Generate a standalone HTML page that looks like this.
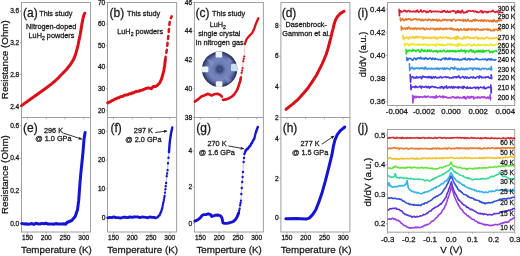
<!DOCTYPE html>
<html><head><meta charset="utf-8"><style>
html,body{margin:0;padding:0;background:#fff;}
svg{display:block;opacity:0.999;filter:blur(0.3px);}
text{font-family:"Liberation Sans", sans-serif;fill:#1a1a1a;stroke:#1a1a1a;stroke-width:0.28px;}
</style></head><body>
<svg width="520" height="256" viewBox="0 0 520 256">
<rect width="520" height="256" fill="#fff"/>
<rect x="21.5" y="2.5" width="69.0" height="115.0" fill="none" stroke="#a0a0a0" stroke-width="1"/>
<rect x="21.5" y="117.5" width="69.0" height="114.5" fill="none" stroke="#a0a0a0" stroke-width="1"/>
<rect x="107.5" y="2.5" width="69.1" height="115.0" fill="none" stroke="#a0a0a0" stroke-width="1"/>
<rect x="107.5" y="117.5" width="69.1" height="114.5" fill="none" stroke="#a0a0a0" stroke-width="1"/>
<rect x="194.4" y="2.5" width="68.99999999999997" height="115.0" fill="none" stroke="#a0a0a0" stroke-width="1"/>
<rect x="194.4" y="117.5" width="68.99999999999997" height="114.5" fill="none" stroke="#a0a0a0" stroke-width="1"/>
<rect x="280.9" y="2.5" width="69.0" height="115.0" fill="none" stroke="#a0a0a0" stroke-width="1"/>
<rect x="280.9" y="117.5" width="69.0" height="114.5" fill="none" stroke="#a0a0a0" stroke-width="1"/>
<rect x="387.5" y="2.5" width="127.2" height="103" fill="none" stroke="#a0a0a0" stroke-width="1"/>
<rect x="387.5" y="129.5" width="127.2" height="102.7" fill="none" stroke="#a0a0a0" stroke-width="1"/>
<line x1="27.5" y1="232.0" x2="27.5" y2="233.8" stroke="#a0a0a0" stroke-width="0.8"/>
<line x1="27.5" y1="117.5" x2="27.5" y2="119.3" stroke="#a0a0a0" stroke-width="0.8"/>
<text x="27.5" y="240.3" font-size="6.6" text-anchor="middle" >150</text>
<line x1="46.25" y1="232.0" x2="46.25" y2="233.8" stroke="#a0a0a0" stroke-width="0.8"/>
<line x1="46.25" y1="117.5" x2="46.25" y2="119.3" stroke="#a0a0a0" stroke-width="0.8"/>
<text x="46.25" y="240.3" font-size="6.6" text-anchor="middle" >200</text>
<line x1="65.0" y1="232.0" x2="65.0" y2="233.8" stroke="#a0a0a0" stroke-width="0.8"/>
<line x1="65.0" y1="117.5" x2="65.0" y2="119.3" stroke="#a0a0a0" stroke-width="0.8"/>
<text x="65.0" y="240.3" font-size="6.6" text-anchor="middle" >250</text>
<line x1="83.75" y1="232.0" x2="83.75" y2="233.8" stroke="#a0a0a0" stroke-width="0.8"/>
<line x1="83.75" y1="117.5" x2="83.75" y2="119.3" stroke="#a0a0a0" stroke-width="0.8"/>
<text x="83.75" y="240.3" font-size="6.6" text-anchor="middle" >300</text>
<text x="56.4" y="252.6" font-size="9.8" text-anchor="middle" >Temperature (K)</text>
<line x1="113.5" y1="232.0" x2="113.5" y2="233.8" stroke="#a0a0a0" stroke-width="0.8"/>
<line x1="113.5" y1="117.5" x2="113.5" y2="119.3" stroke="#a0a0a0" stroke-width="0.8"/>
<text x="113.5" y="240.3" font-size="6.6" text-anchor="middle" >150</text>
<line x1="132.25" y1="232.0" x2="132.25" y2="233.8" stroke="#a0a0a0" stroke-width="0.8"/>
<line x1="132.25" y1="117.5" x2="132.25" y2="119.3" stroke="#a0a0a0" stroke-width="0.8"/>
<text x="132.25" y="240.3" font-size="6.6" text-anchor="middle" >200</text>
<line x1="151.0" y1="232.0" x2="151.0" y2="233.8" stroke="#a0a0a0" stroke-width="0.8"/>
<line x1="151.0" y1="117.5" x2="151.0" y2="119.3" stroke="#a0a0a0" stroke-width="0.8"/>
<text x="151.0" y="240.3" font-size="6.6" text-anchor="middle" >250</text>
<line x1="169.75" y1="232.0" x2="169.75" y2="233.8" stroke="#a0a0a0" stroke-width="0.8"/>
<line x1="169.75" y1="117.5" x2="169.75" y2="119.3" stroke="#a0a0a0" stroke-width="0.8"/>
<text x="169.75" y="240.3" font-size="6.6" text-anchor="middle" >300</text>
<text x="142.6" y="252.6" font-size="9.8" text-anchor="middle" >Temperature (K)</text>
<line x1="200.4" y1="232.0" x2="200.4" y2="233.8" stroke="#a0a0a0" stroke-width="0.8"/>
<line x1="200.4" y1="117.5" x2="200.4" y2="119.3" stroke="#a0a0a0" stroke-width="0.8"/>
<text x="200.4" y="240.3" font-size="6.6" text-anchor="middle" >150</text>
<line x1="219.15" y1="232.0" x2="219.15" y2="233.8" stroke="#a0a0a0" stroke-width="0.8"/>
<line x1="219.15" y1="117.5" x2="219.15" y2="119.3" stroke="#a0a0a0" stroke-width="0.8"/>
<text x="219.15" y="240.3" font-size="6.6" text-anchor="middle" >200</text>
<line x1="237.9" y1="232.0" x2="237.9" y2="233.8" stroke="#a0a0a0" stroke-width="0.8"/>
<line x1="237.9" y1="117.5" x2="237.9" y2="119.3" stroke="#a0a0a0" stroke-width="0.8"/>
<text x="237.9" y="240.3" font-size="6.6" text-anchor="middle" >250</text>
<line x1="256.65" y1="232.0" x2="256.65" y2="233.8" stroke="#a0a0a0" stroke-width="0.8"/>
<line x1="256.65" y1="117.5" x2="256.65" y2="119.3" stroke="#a0a0a0" stroke-width="0.8"/>
<text x="256.65" y="240.3" font-size="6.6" text-anchor="middle" >300</text>
<text x="229.1" y="252.6" font-size="9.8" text-anchor="middle" >Temperture (K)</text>
<line x1="286.9" y1="232.0" x2="286.9" y2="233.8" stroke="#a0a0a0" stroke-width="0.8"/>
<line x1="286.9" y1="117.5" x2="286.9" y2="119.3" stroke="#a0a0a0" stroke-width="0.8"/>
<text x="286.9" y="240.3" font-size="6.6" text-anchor="middle" >150</text>
<line x1="305.65" y1="232.0" x2="305.65" y2="233.8" stroke="#a0a0a0" stroke-width="0.8"/>
<line x1="305.65" y1="117.5" x2="305.65" y2="119.3" stroke="#a0a0a0" stroke-width="0.8"/>
<text x="305.65" y="240.3" font-size="6.6" text-anchor="middle" >200</text>
<line x1="324.4" y1="232.0" x2="324.4" y2="233.8" stroke="#a0a0a0" stroke-width="0.8"/>
<line x1="324.4" y1="117.5" x2="324.4" y2="119.3" stroke="#a0a0a0" stroke-width="0.8"/>
<text x="324.4" y="240.3" font-size="6.6" text-anchor="middle" >250</text>
<line x1="343.15" y1="232.0" x2="343.15" y2="233.8" stroke="#a0a0a0" stroke-width="0.8"/>
<line x1="343.15" y1="117.5" x2="343.15" y2="119.3" stroke="#a0a0a0" stroke-width="0.8"/>
<text x="343.15" y="240.3" font-size="6.6" text-anchor="middle" >300</text>
<text x="316.1" y="252.6" font-size="9.8" text-anchor="middle" >Temperature (K)</text>
<line x1="19.7" y1="11.2" x2="21.5" y2="11.2" stroke="#a0a0a0" stroke-width="0.8"/>
<text x="19.3" y="13.399999999999999" font-size="6.6" text-anchor="end" >3.6</text>
<line x1="19.7" y1="42.9" x2="21.5" y2="42.9" stroke="#a0a0a0" stroke-width="0.8"/>
<text x="19.3" y="45.1" font-size="6.6" text-anchor="end" >3.2</text>
<line x1="19.7" y1="74.6" x2="21.5" y2="74.6" stroke="#a0a0a0" stroke-width="0.8"/>
<text x="19.3" y="76.8" font-size="6.6" text-anchor="end" >2.8</text>
<line x1="19.7" y1="106.3" x2="21.5" y2="106.3" stroke="#a0a0a0" stroke-width="0.8"/>
<text x="19.3" y="108.5" font-size="6.6" text-anchor="end" >2.4</text>
<line x1="19.7" y1="125.5" x2="21.5" y2="125.5" stroke="#a0a0a0" stroke-width="0.8"/>
<text x="19.3" y="127.7" font-size="6.6" text-anchor="end" >0.6</text>
<line x1="19.7" y1="158.2" x2="21.5" y2="158.2" stroke="#a0a0a0" stroke-width="0.8"/>
<text x="19.3" y="160.39999999999998" font-size="6.6" text-anchor="end" >0.4</text>
<line x1="19.7" y1="190.8" x2="21.5" y2="190.8" stroke="#a0a0a0" stroke-width="0.8"/>
<text x="19.3" y="193.0" font-size="6.6" text-anchor="end" >0.2</text>
<line x1="19.7" y1="223.5" x2="21.5" y2="223.5" stroke="#a0a0a0" stroke-width="0.8"/>
<text x="19.3" y="225.7" font-size="6.6" text-anchor="end" >0.0</text>
<line x1="105.7" y1="2.5" x2="107.5" y2="2.5" stroke="#a0a0a0" stroke-width="0.8"/>
<text x="105.3" y="4.7" font-size="6.6" text-anchor="end" >70</text>
<line x1="105.7" y1="24.0" x2="107.5" y2="24.0" stroke="#a0a0a0" stroke-width="0.8"/>
<text x="105.3" y="26.2" font-size="6.6" text-anchor="end" >60</text>
<line x1="105.7" y1="45.6" x2="107.5" y2="45.6" stroke="#a0a0a0" stroke-width="0.8"/>
<text x="105.3" y="47.800000000000004" font-size="6.6" text-anchor="end" >50</text>
<line x1="105.7" y1="67.1" x2="107.5" y2="67.1" stroke="#a0a0a0" stroke-width="0.8"/>
<text x="105.3" y="69.3" font-size="6.6" text-anchor="end" >40</text>
<line x1="105.7" y1="88.7" x2="107.5" y2="88.7" stroke="#a0a0a0" stroke-width="0.8"/>
<text x="105.3" y="90.9" font-size="6.6" text-anchor="end" >30</text>
<line x1="105.7" y1="110.3" x2="107.5" y2="110.3" stroke="#a0a0a0" stroke-width="0.8"/>
<text x="105.3" y="112.5" font-size="6.6" text-anchor="end" >20</text>
<line x1="105.7" y1="131.5" x2="107.5" y2="131.5" stroke="#a0a0a0" stroke-width="0.8"/>
<text x="105.3" y="133.7" font-size="6.6" text-anchor="end" >30</text>
<line x1="105.7" y1="160.1" x2="107.5" y2="160.1" stroke="#a0a0a0" stroke-width="0.8"/>
<text x="105.3" y="162.29999999999998" font-size="6.6" text-anchor="end" >20</text>
<line x1="105.7" y1="188.7" x2="107.5" y2="188.7" stroke="#a0a0a0" stroke-width="0.8"/>
<text x="105.3" y="190.89999999999998" font-size="6.6" text-anchor="end" >10</text>
<line x1="105.7" y1="217.3" x2="107.5" y2="217.3" stroke="#a0a0a0" stroke-width="0.8"/>
<text x="105.3" y="219.5" font-size="6.6" text-anchor="end" >0</text>
<line x1="192.6" y1="2.5" x2="194.4" y2="2.5" stroke="#a0a0a0" stroke-width="0.8"/>
<text x="192.20000000000002" y="4.7" font-size="6.6" text-anchor="end" >46</text>
<line x1="192.6" y1="31.2" x2="194.4" y2="31.2" stroke="#a0a0a0" stroke-width="0.8"/>
<text x="192.20000000000002" y="33.4" font-size="6.6" text-anchor="end" >44</text>
<line x1="192.6" y1="59.9" x2="194.4" y2="59.9" stroke="#a0a0a0" stroke-width="0.8"/>
<text x="192.20000000000002" y="62.1" font-size="6.6" text-anchor="end" >42</text>
<line x1="192.6" y1="88.6" x2="194.4" y2="88.6" stroke="#a0a0a0" stroke-width="0.8"/>
<text x="192.20000000000002" y="90.8" font-size="6.6" text-anchor="end" >40</text>
<line x1="192.6" y1="117.3" x2="194.4" y2="117.3" stroke="#a0a0a0" stroke-width="0.8"/>
<text x="192.20000000000002" y="119.5" font-size="6.6" text-anchor="end" >38</text>
<line x1="192.6" y1="150.9" x2="194.4" y2="150.9" stroke="#a0a0a0" stroke-width="0.8"/>
<text x="192.20000000000002" y="153.1" font-size="6.6" text-anchor="end" >4</text>
<line x1="192.6" y1="187.1" x2="194.4" y2="187.1" stroke="#a0a0a0" stroke-width="0.8"/>
<text x="192.20000000000002" y="189.29999999999998" font-size="6.6" text-anchor="end" >2</text>
<line x1="192.6" y1="223.3" x2="194.4" y2="223.3" stroke="#a0a0a0" stroke-width="0.8"/>
<text x="192.20000000000002" y="225.5" font-size="6.6" text-anchor="end" >0</text>
<line x1="279.09999999999997" y1="25.4" x2="280.9" y2="25.4" stroke="#a0a0a0" stroke-width="0.8"/>
<text x="278.7" y="27.599999999999998" font-size="6.6" text-anchor="end" >8</text>
<line x1="279.09999999999997" y1="56.2" x2="280.9" y2="56.2" stroke="#a0a0a0" stroke-width="0.8"/>
<text x="278.7" y="58.400000000000006" font-size="6.6" text-anchor="end" >6</text>
<line x1="279.09999999999997" y1="87.0" x2="280.9" y2="87.0" stroke="#a0a0a0" stroke-width="0.8"/>
<text x="278.7" y="89.2" font-size="6.6" text-anchor="end" >4</text>
<line x1="279.09999999999997" y1="117.7" x2="280.9" y2="117.7" stroke="#a0a0a0" stroke-width="0.8"/>
<text x="278.7" y="119.9" font-size="6.6" text-anchor="end" >2</text>
<line x1="279.09999999999997" y1="138.5" x2="280.9" y2="138.5" stroke="#a0a0a0" stroke-width="0.8"/>
<text x="278.7" y="140.7" font-size="6.6" text-anchor="end" >4</text>
<line x1="279.09999999999997" y1="178.3" x2="280.9" y2="178.3" stroke="#a0a0a0" stroke-width="0.8"/>
<text x="278.7" y="180.5" font-size="6.6" text-anchor="end" >2</text>
<line x1="279.09999999999997" y1="218.1" x2="280.9" y2="218.1" stroke="#a0a0a0" stroke-width="0.8"/>
<text x="278.7" y="220.29999999999998" font-size="6.6" text-anchor="end" >0</text>
<text transform="translate(7.9,59.7) rotate(-90)" font-size="9.8" text-anchor="middle">Resistance (Ohm)</text>
<text transform="translate(7.9,174.6) rotate(-90)" font-size="9.8" text-anchor="middle">Resistance (Ohm)</text>
<text x="23.1" y="16.5" font-size="12.0" text-anchor="start" >(a)</text>
<text x="39.2" y="15.6" font-size="7.3" text-anchor="start" >This study</text>
<text x="51.2" y="29.4" font-size="7.3" text-anchor="middle" >Nitrogen-doped</text>
<text x="51.5" y="37.8" font-size="7.3" text-anchor="middle" >LuH<tspan font-size="5.2" dy="2.0">2</tspan><tspan dy="-2.0"> powders</tspan></text>
<text x="109.5" y="16.5" font-size="12.0" text-anchor="start" >(b)</text>
<text x="127.0" y="15.6" font-size="7.3" text-anchor="start" >This study</text>
<text x="140.2" y="33.5" font-size="7.3" text-anchor="middle" >LuH<tspan font-size="5.2" dy="2.0">2</tspan><tspan dy="-2.0"> powders</tspan></text>
<text x="195.6" y="16.5" font-size="12.0" text-anchor="start" >(c)</text>
<text x="212.0" y="15.6" font-size="7.3" text-anchor="start" >This study</text>
<text x="217.8" y="27.3" font-size="7.3" text-anchor="middle" >LuH<tspan font-size="5.2" dy="2.0">2</tspan></text>
<text x="219.3" y="36.4" font-size="7.3" text-anchor="middle" >single crystal</text>
<text x="220.8" y="44.6" font-size="7.3" text-anchor="middle" >in nitrogen gas.</text>
<text x="281.7" y="16.5" font-size="12.0" text-anchor="start" >(d)</text>
<text x="306.2" y="27.1" font-size="7.3" text-anchor="middle" >Dasenbrock-</text>
<text x="306.2" y="35.6" font-size="7.3" text-anchor="middle" >Gammon et al.</text>
<text x="23.1" y="132.2" font-size="12.0" text-anchor="start" >(e)</text>
<text x="53.5" y="132.8" font-size="7.3" text-anchor="middle" >296 K</text>
<text x="53.4" y="141.2" font-size="7.3" text-anchor="middle" >@ 1.0 GPa</text>
<text x="110.5" y="132.2" font-size="12.0" text-anchor="start" >(f)</text>
<text x="143.4" y="133.2" font-size="7.3" text-anchor="middle" >297 K</text>
<text x="143.4" y="142.2" font-size="7.3" text-anchor="middle" >@ 2.0 GPa</text>
<text x="196.3" y="132.2" font-size="12.0" text-anchor="start" >(g)</text>
<text x="217.0" y="145.6" font-size="7.3" text-anchor="middle" >270 K</text>
<text x="216.8" y="154.9" font-size="7.3" text-anchor="middle" >@ 1.6 GPa</text>
<text x="282.7" y="132.2" font-size="12.0" text-anchor="start" >(h)</text>
<text x="310.1" y="145.6" font-size="7.3" text-anchor="middle" >277 K</text>
<text x="310.1" y="154.9" font-size="7.3" text-anchor="middle" >@ 1.5 GPa</text>
<line x1="63.3" y1="133.1" x2="82.0" y2="139.2" stroke="#333" stroke-width="1.0"/>
<polygon points="82.0,139.2 78.46,139.73 79.45,136.69" fill="#222"/>
<line x1="155.2" y1="132.5" x2="167.2" y2="131.0" stroke="#333" stroke-width="1.0"/>
<polygon points="167.2,131.0 164.22,132.98 163.83,129.81" fill="#222"/>
<line x1="228.3" y1="145.9" x2="244.0" y2="148.8" stroke="#333" stroke-width="1.0"/>
<polygon points="244.0,148.8 240.56,149.79 241.14,146.65" fill="#222"/>
<line x1="321.8" y1="144.2" x2="334.2" y2="135.9" stroke="#333" stroke-width="1.0"/>
<polygon points="334.2,135.9 332.43,139.01 330.65,136.35" fill="#222"/>
<polyline points="21.50,105.60 30.00,99.50 41.30,91.60 46.50,87.80 51.90,83.60 55.00,81.00 58.90,77.30 62.80,73.30 66.70,69.20 70.60,64.30 73.60,59.40 75.50,54.60 76.90,49.70 78.10,44.80 79.10,39.90 80.20,34.50 80.90,30.50 81.90,24.10 83.00,18.50 83.70,15.60 84.80,13.20" fill="none" stroke="#d9101a" stroke-width="3.0" stroke-linejoin="round" stroke-linecap="round" />
<polyline points="107.80,102.88 109.02,102.14 110.23,101.87 111.45,100.85 112.67,100.56 113.88,99.82 115.10,98.99 116.22,98.84 117.35,98.05 118.47,97.87 119.60,97.15 120.72,96.70 121.85,96.47 122.97,96.29 124.10,95.34 125.24,95.04 126.38,94.96 127.51,94.83 128.65,94.20 129.79,93.72 130.92,93.76 132.06,92.75 133.20,92.95 134.32,92.22 135.45,91.78 136.57,91.42 137.70,91.22 138.82,91.23 139.95,90.45 141.07,90.39 142.20,90.10 143.33,89.54 144.47,89.30 145.60,88.59 146.73,88.23 147.87,87.96 149.00,87.93 151.30,88.80 153.30,86.60 155.50,86.60 157.70,85.00 159.80,82.70 161.40,79.40 162.70,75.00 163.80,70.60 164.70,65.20 165.30,59.70" fill="none" stroke="#d9101a" stroke-width="3.0" stroke-linejoin="round" stroke-linecap="round" />
<polyline points="165.30,59.70 166.00,54.20 166.80,50.00 167.30,45.50 168.00,39.30 168.60,33.20 169.10,27.90 169.60,22.60 170.50,19.10 171.70,16.40" fill="none" stroke="#d9101a" stroke-width="2.5" stroke-linejoin="round" stroke-linecap="round" stroke-dasharray="3 4"/>
<polyline points="194.80,101.60 198.00,99.40 201.40,96.50 204.80,95.20 208.10,93.80 211.50,95.50 214.00,94.30 217.40,93.80 219.90,94.80 221.90,96.50" fill="none" stroke="#d9101a" stroke-width="2.6" stroke-linejoin="round" stroke-linecap="round" />
<polyline points="222.90,99.90 225.80,99.40 229.20,98.20 232.00,96.50 234.40,94.10 236.70,90.60 237.90,88.20 239.00,84.70 240.20,81.20 240.90,77.60" fill="none" stroke="#d9101a" stroke-width="2.6" stroke-linejoin="round" stroke-linecap="round" />
<polyline points="240.9,77.6 241.6,72.9 242.6,68.2 243.3,61.2 244.2,56.5 244.9,44" fill="none" stroke="#e8a0a0" stroke-width="0.6"/>
<path d="M240.90,77.60h0M241.60,72.90h0M242.10,70.60h0M242.60,68.20h0" stroke="#d9101a" stroke-width="2.2" stroke-linecap="round" fill="none"/>
<path d="M243.30,61.20h0M243.80,58.80h0M244.20,56.50h0" stroke="#d9101a" stroke-width="2.2" stroke-linecap="round" fill="none"/>
<polyline points="244.90,43.90 245.70,41.70 246.40,39.50 247.90,37.60 249.40,35.80 250.90,34.30 252.30,32.80 253.80,29.80 254.60,27.60 255.30,25.40 256.80,21.70 258.30,18.20" fill="none" stroke="#d9101a" stroke-width="2.3" stroke-linejoin="round" stroke-linecap="round" />
<polyline points="286.10,109.30 292.30,104.40 298.40,99.10 304.00,92.80 308.20,87.70 312.30,81.60 316.40,75.30 319.30,69.60 321.90,64.30 324.10,59.40 326.00,54.80 327.50,50.20 328.80,45.50 330.70,38.40 332.00,32.50 333.10,28.60 334.10,24.30 335.60,19.80 337.80,16.10 340.80,13.10 344.10,11.20" fill="none" stroke="#d9101a" stroke-width="3.0" stroke-linejoin="round" stroke-linecap="round" />
<polyline points="21.80,223.49 23.80,223.89 25.80,223.83 27.80,224.25 29.80,224.08 31.80,223.55 33.80,224.38 35.80,223.34 37.80,223.70 39.80,224.11 41.80,223.38 43.80,223.79 45.80,223.25 47.80,224.00 49.80,224.12 51.80,223.89 53.80,224.25 55.80,223.58 57.80,224.03 59.80,223.91 61.80,223.90 63.80,223.75 65.80,224.21 67.00,222.50 71.70,220.50 75.20,216.50 77.50,209.70 78.70,200.40 79.90,184.00 80.80,173.70 81.90,163.00 83.00,152.20 84.00,139.30 85.10,132.50" fill="none" stroke="#1414d2" stroke-width="3.0" stroke-linejoin="round" stroke-linecap="round" />
<polyline points="107.80,217.93 109.80,217.37 111.80,217.60 113.80,216.87 115.80,217.64 117.80,217.58 119.80,217.99 121.80,217.79 123.80,217.14 125.80,217.26 127.80,217.60 129.80,216.83 131.80,217.35 133.80,217.00 135.80,216.94 137.80,216.87 139.80,217.72 141.80,216.96 143.80,217.10 145.80,217.27 147.80,217.85 149.80,216.90 151.80,217.34 153.80,217.46 155.80,217.86" fill="none" stroke="#1414d2" stroke-width="2.8" stroke-linejoin="round" stroke-linecap="round" />
<polyline points="157.50,217.10 159.60,215.00 161.10,211.80 162.40,207.50 163.50,202.10 164.60,195.70 165.40,189.30 166.10,182.90 166.70,176.40 167.60,170.00 168.00,163.00 169.00,152.00" fill="none" stroke="#1414d2" stroke-width="0.6" stroke-linejoin="round" stroke-linecap="round" opacity="0.55"/>
<path d="M157.50,217.29h0M157.92,216.90h0M158.34,216.13h0M158.76,215.79h0M159.18,215.34h0M159.60,215.23h0M159.97,214.47h0M160.35,213.19h0M160.72,212.41h0M161.10,211.64h0M161.53,210.21h0M161.97,208.92h0M162.40,207.55h0M162.77,205.56h0M163.13,203.60h0M163.50,202.05h0M163.87,199.89h0M164.23,197.87h0M164.60,195.97h0M165.00,192.61h0M165.40,189.31h0M165.75,186.17h0M166.10,183.01h0M166.70,176.13h0M167.15,173.44h0M167.60,170.17h0M168.00,163.22h0M168.50,157.68h0M169.00,151.94h0" stroke="#1414d2" stroke-width="2.4" stroke-linecap="round" fill="none"/>
<polyline points="169.00,152.00 169.60,144.00 170.10,139.50 171.00,133.50 172.30,127.50" fill="none" stroke="#1414d2" stroke-width="2.4" stroke-linejoin="round" stroke-linecap="round" />
<polyline points="194.80,221.10 197.70,219.90 200.00,218.10 201.80,215.80 203.50,214.60 205.90,214.60 208.20,213.80 210.60,214.60 211.70,216.50 213.50,215.80 215.80,215.20 218.20,215.00 220.50,215.80 221.70,217.60 222.30,219.30 222.90,222.80 224.60,223.40 227.00,223.40 229.30,222.80 231.60,222.20 234.00,221.10 235.70,219.30 237.30,216.40 238.70,212.90" fill="none" stroke="#1414d2" stroke-width="2.9" stroke-linejoin="round" stroke-linecap="round" />
<polyline points="238.70,212.90 239.60,208.80 240.10,205.30 241.00,200.60 241.30,194.00 242.20,182.00 243.00,172.00 243.60,162.00 244.40,154.00 245.80,150.50" fill="none" stroke="#1414d2" stroke-width="0.5" stroke-linejoin="round" stroke-linecap="round" opacity="0.55"/>
<path d="M238.70,212.90h0M239.15,210.85h0M239.60,208.80h0M240.10,205.30h0M240.55,202.95h0M241.00,200.60h0M241.30,194.00h0M241.75,188.00h0M242.20,182.00h0M242.60,177.00h0M243.00,172.00h0M243.60,162.00h0M244.00,158.00h0M244.40,154.00h0M244.87,152.83h0M245.33,151.67h0M245.80,150.50h0" stroke="#1414d2" stroke-width="2.4" stroke-linecap="round" fill="none"/>
<polyline points="245.80,150.50 246.30,150.00 248.00,148.30 249.60,146.70 250.70,145.10 251.70,143.40 252.90,141.00 254.00,139.30 254.50,137.70 255.30,134.40 256.10,132.00 256.90,129.50 257.80,127.00" fill="none" stroke="#1414d2" stroke-width="0.8" stroke-linejoin="round" stroke-linecap="round" opacity="0.55"/>
<path d="M245.80,150.35h0M246.30,149.91h0M246.73,149.49h0M247.15,148.92h0M247.57,148.93h0M248.00,148.60h0M248.40,147.88h0M248.80,147.49h0M249.20,146.85h0M249.60,146.46h0M249.97,146.07h0M250.33,145.49h0M250.70,145.30h0M251.20,144.05h0M251.70,143.11h0M252.10,142.87h0M252.50,141.82h0M252.90,140.79h0M253.27,140.46h0M253.63,139.58h0M254.00,139.32h0M254.50,137.99h0M254.90,136.27h0M255.30,134.52h0M255.70,133.06h0M256.10,131.92h0M256.50,130.55h0M256.90,129.66h0M257.35,128.27h0M257.80,127.17h0" stroke="#1414d2" stroke-width="2.6" stroke-linecap="round" fill="none"/>
<polyline points="285.80,218.80 296.20,218.40 305.90,219.10 309.20,218.10 312.40,214.90 315.70,210.00 318.90,201.90 322.20,192.20 325.40,180.80 328.70,167.80 331.90,154.90 333.30,146.70 334.90,140.10 337.40,134.40 340.70,130.30 344.80,127.00" fill="none" stroke="#1414d2" stroke-width="3.0" stroke-linejoin="round" stroke-linecap="round" />
<text x="357.6" y="16.8" font-size="12.0" text-anchor="start" >(i)</text>
<line x1="385.7" y1="9.1" x2="387.5" y2="9.1" stroke="#a0a0a0" stroke-width="0.8"/>
<text x="385.3" y="11.7" font-size="7.8" text-anchor="end" >0.44</text>
<line x1="385.7" y1="32.2" x2="387.5" y2="32.2" stroke="#a0a0a0" stroke-width="0.8"/>
<text x="385.3" y="34.800000000000004" font-size="7.8" text-anchor="end" >0.42</text>
<line x1="385.7" y1="55.3" x2="387.5" y2="55.3" stroke="#a0a0a0" stroke-width="0.8"/>
<text x="385.3" y="57.9" font-size="7.8" text-anchor="end" >0.40</text>
<line x1="385.7" y1="78.4" x2="387.5" y2="78.4" stroke="#a0a0a0" stroke-width="0.8"/>
<text x="385.3" y="81.0" font-size="7.8" text-anchor="end" >0.38</text>
<line x1="385.7" y1="101.5" x2="387.5" y2="101.5" stroke="#a0a0a0" stroke-width="0.8"/>
<text x="385.3" y="104.1" font-size="7.8" text-anchor="end" >0.36</text>
<line x1="396.9" y1="105.5" x2="396.9" y2="107.3" stroke="#a0a0a0" stroke-width="0.8"/>
<text x="396.9" y="114.2" font-size="7.8" text-anchor="middle" >-0.004</text>
<line x1="424.0" y1="105.5" x2="424.0" y2="107.3" stroke="#a0a0a0" stroke-width="0.8"/>
<text x="424.0" y="114.2" font-size="7.8" text-anchor="middle" >-0.002</text>
<line x1="451.09999999999997" y1="105.5" x2="451.09999999999997" y2="107.3" stroke="#a0a0a0" stroke-width="0.8"/>
<text x="451.09999999999997" y="114.2" font-size="7.8" text-anchor="middle" >0.000</text>
<line x1="478.2" y1="105.5" x2="478.2" y2="107.3" stroke="#a0a0a0" stroke-width="0.8"/>
<text x="478.2" y="114.2" font-size="7.8" text-anchor="middle" >0.002</text>
<line x1="505.29999999999995" y1="105.5" x2="505.29999999999995" y2="107.3" stroke="#a0a0a0" stroke-width="0.8"/>
<text x="505.29999999999995" y="114.2" font-size="7.8" text-anchor="middle" >0.004</text>
<text transform="translate(366.4,54.5) rotate(-90)" font-size="9.2" text-anchor="middle">dI/dV (a.u.)</text>
<polyline points="399.10,9.40 399.40,15.80 399.90,11.10 400.60,10.61 401.30,11.98 402.00,11.67 402.70,11.55 403.40,11.16 404.10,10.28 404.80,10.43 405.49,11.49 406.19,11.05 406.89,12.03 407.59,10.92 408.29,10.67 408.99,10.64 409.69,11.90 410.39,11.14 411.09,11.73 411.79,11.71 412.49,11.71 413.19,11.16 413.89,11.73 414.59,11.76 415.29,11.03 415.98,12.03 416.68,10.64 417.38,10.12 418.08,11.79 418.78,12.29 419.48,11.54 420.18,11.35 420.88,9.71 421.58,11.54 422.28,12.05 422.98,11.95 423.68,10.76 424.38,10.92 425.08,11.45 425.77,11.16 426.47,12.62 427.17,11.24 427.87,12.05 428.57,12.08 429.27,11.39 429.97,10.47 430.67,10.77 431.37,12.30 432.07,11.30 432.77,11.46 433.47,11.39 434.17,11.88 434.87,11.57 435.57,10.98 436.26,11.40 436.96,11.86 437.66,11.29 438.36,11.41 439.06,11.75 439.76,11.47 440.46,12.21 441.16,12.10 441.86,10.99 442.56,12.23 443.26,10.78 443.96,11.26 444.66,10.62 445.36,12.00 446.06,12.17 446.75,11.85 447.45,10.83 448.15,12.32 448.85,12.30 449.55,11.46 450.25,12.09 450.95,11.37 451.65,11.21 452.35,11.18 453.05,10.65 453.75,11.41 454.45,10.99 455.15,11.55 455.85,13.09 456.54,12.39 457.24,10.80 457.94,12.44 458.64,10.89 459.34,12.30 460.04,11.13 460.74,12.91 461.44,11.94 462.14,10.17 462.84,11.46 463.54,13.00 464.24,12.14 464.94,12.75 465.64,12.77 466.34,11.33 467.03,12.39 467.73,10.96 468.43,11.16 469.13,10.56 469.83,10.69 470.53,11.30 471.23,11.28 471.93,11.08 472.63,10.80 473.33,10.80 474.03,11.77 474.73,11.64 475.43,10.98 476.13,11.57 476.83,12.30 477.52,11.72 478.22,12.58 478.92,12.31 479.62,11.97 480.32,11.45 481.02,10.55 481.72,12.51 482.42,11.14 483.12,12.84 483.82,12.06 484.52,11.29 485.22,11.69 485.92,11.67 486.62,12.61 487.31,11.87 488.01,12.62 488.71,11.53 489.41,11.42 490.11,11.81 490.81,11.82 491.51,11.06 492.21,11.50 492.91,10.30 493.61,11.35 494.31,11.89 495.01,12.12 495.71,12.53 496.41,11.54 497.11,11.23 497.80,12.12 498.50,12.94 499.20,12.10 499.90,12.44 500.60,11.96 501.30,12.49 502.00,12.48 502.70,12.61" fill="none" stroke="#dc1c30" stroke-width="1.6" stroke-linejoin="round" stroke-linecap="round" />
<text x="515.2" y="10.6" font-size="6.7" text-anchor="end" >300 K</text>
<polyline points="400.30,18.00 400.60,21.00 401.10,19.50 401.80,19.86 402.50,18.68 403.19,19.09 403.89,20.62 404.59,19.78 405.29,19.89 405.99,18.68 406.68,20.03 407.38,19.66 408.08,18.82 408.78,19.17 409.48,18.87 410.17,19.10 410.87,20.50 411.57,19.44 412.27,20.00 412.96,19.89 413.66,18.93 414.36,18.91 415.06,19.36 415.76,18.84 416.45,18.99 417.15,20.09 417.85,19.37 418.55,19.70 419.25,19.08 419.94,19.24 420.64,20.58 421.34,19.67 422.04,20.66 422.74,19.41 423.43,20.64 424.13,19.99 424.83,19.93 425.53,19.20 426.23,19.89 426.92,20.25 427.62,20.61 428.32,19.05 429.02,19.89 429.71,19.57 430.41,19.44 431.11,20.56 431.81,20.76 432.51,19.28 433.20,20.36 433.90,19.61 434.60,19.81 435.30,20.17 436.00,19.89 436.69,19.22 437.39,21.11 438.09,20.84 438.79,19.64 439.49,19.51 440.18,20.90 440.88,20.66 441.58,20.85 442.28,20.20 442.98,19.31 443.67,20.05 444.37,20.41 445.07,19.34 445.77,19.50 446.46,19.90 447.16,20.62 447.86,19.77 448.56,19.85 449.26,20.03 449.95,19.62 450.65,20.97 451.35,19.75 452.05,21.15 452.75,19.62 453.44,19.54 454.14,19.56 454.84,19.87 455.54,21.01 456.24,20.17 456.93,20.38 457.63,20.05 458.33,19.64 459.03,19.69 459.73,20.61 460.42,19.87 461.12,19.94 461.82,20.31 462.52,21.04 463.21,19.57 463.91,21.11 464.61,20.40 465.31,19.56 466.01,21.24 466.70,21.12 467.40,20.04 468.10,19.39 468.80,20.84 469.50,20.92 470.19,21.01 470.89,20.63 471.59,21.46 472.29,21.32 472.99,20.22 473.68,19.79 474.38,20.95 475.08,19.23 475.78,20.76 476.48,20.13 477.17,19.75 477.87,20.58 478.57,20.92 479.27,20.62 479.96,20.22 480.66,21.06 481.36,19.84 482.06,21.02 482.76,20.28 483.45,21.49 484.15,19.90 484.85,20.61 485.55,20.22 486.25,21.20 486.94,20.25 487.64,20.45 488.34,20.32 489.04,21.28 489.74,21.64 490.43,20.27 491.13,20.69 491.83,21.66 492.53,20.52 493.23,21.73 493.92,19.45 494.62,20.55 495.32,21.60 496.02,21.81 496.71,20.62 497.41,21.72 498.11,20.11 498.81,20.74 499.51,20.67 500.20,20.08 500.90,20.72 501.60,20.32" fill="none" stroke="#e8742c" stroke-width="1.6" stroke-linejoin="round" stroke-linecap="round" />
<text x="515.2" y="19.2" font-size="6.7" text-anchor="end" >290 K</text>
<polyline points="401.20,26.50 401.50,30.00 402.00,28.40 402.70,27.88 403.40,29.00 404.10,28.31 404.79,28.36 405.49,29.21 406.19,28.22 406.89,27.63 407.59,29.05 408.29,27.68 408.99,27.11 409.68,28.09 410.38,29.25 411.08,28.14 411.78,28.77 412.48,28.96 413.18,28.18 413.88,29.41 414.57,28.85 415.27,27.76 415.97,28.58 416.67,29.46 417.37,28.20 418.07,28.65 418.77,28.10 419.46,29.11 420.16,29.19 420.86,28.40 421.56,28.47 422.26,27.97 422.96,29.20 423.66,27.97 424.35,28.93 425.05,29.64 425.75,29.66 426.45,28.05 427.15,28.80 427.85,28.72 428.55,28.68 429.24,29.16 429.94,29.48 430.64,28.18 431.34,28.51 432.04,28.66 432.74,28.36 433.44,28.45 434.13,29.61 434.83,28.62 435.53,29.83 436.23,28.47 436.93,29.24 437.63,28.26 438.33,29.56 439.02,29.75 439.72,28.35 440.42,28.03 441.12,29.19 441.82,28.82 442.52,28.97 443.22,29.57 443.91,28.37 444.61,29.31 445.31,28.87 446.01,28.17 446.71,29.31 447.41,28.60 448.11,28.60 448.80,28.59 449.50,28.64 450.20,29.27 450.90,27.92 451.60,29.30 452.30,28.48 453.00,29.58 453.70,28.85 454.39,30.07 455.09,29.38 455.79,29.12 456.49,30.18 457.19,28.75 457.89,28.77 458.59,30.60 459.28,29.91 459.98,30.03 460.68,28.75 461.38,29.53 462.08,30.11 462.78,29.78 463.48,29.41 464.17,28.72 464.87,30.19 465.57,29.40 466.27,30.28 466.97,28.78 467.67,30.32 468.37,28.67 469.06,29.29 469.76,29.72 470.46,28.90 471.16,29.02 471.86,30.16 472.56,28.98 473.26,29.38 473.95,29.36 474.65,28.77 475.35,30.31 476.05,29.80 476.75,28.78 477.45,28.94 478.15,29.73 478.84,29.30 479.54,29.81 480.24,29.96 480.94,29.57 481.64,30.07 482.34,29.23 483.04,30.22 483.73,29.15 484.43,29.03 485.13,29.53 485.83,29.58 486.53,28.95 487.23,29.03 487.93,30.30 488.62,29.00 489.32,29.60 490.02,29.17 490.72,30.73 491.42,30.42 492.12,30.73 492.82,30.70 493.51,29.28 494.21,30.67 494.91,29.43 495.61,29.31 496.31,29.53 497.01,29.30 497.71,30.71 498.40,29.54 499.10,29.65 499.80,28.97 500.50,30.79" fill="none" stroke="#ea7c2c" stroke-width="1.6" stroke-linejoin="round" stroke-linecap="round" />
<text x="515.2" y="29.299999999999997" font-size="6.7" text-anchor="end" >280 K</text>
<polyline points="403.00,35.50 403.30,39.50 403.80,37.40 404.50,38.12 405.19,37.92 405.89,37.52 406.58,37.17 407.28,37.53 407.97,38.12 408.67,39.02 409.36,37.26 410.06,37.03 410.76,37.60 411.45,37.94 412.15,36.89 412.84,36.66 413.54,37.04 414.23,38.36 414.93,37.79 415.62,36.60 416.32,36.38 417.02,37.39 417.71,38.23 418.41,36.65 419.10,36.67 419.80,37.07 420.49,37.08 421.19,37.70 421.89,37.02 422.58,37.51 423.28,38.96 423.97,36.94 424.67,38.02 425.36,38.09 426.06,37.16 426.75,38.06 427.45,37.33 428.15,37.50 428.84,38.03 429.54,38.34 430.23,37.72 430.93,37.16 431.62,38.53 432.32,37.80 433.01,37.00 433.71,37.85 434.41,37.91 435.10,37.08 435.80,37.31 436.49,38.92 437.19,38.07 437.88,38.79 438.58,37.63 439.27,37.61 439.97,37.00 440.67,36.88 441.36,38.17 442.06,38.35 442.75,37.31 443.45,37.62 444.14,37.78 444.84,38.00 445.54,37.24 446.23,36.89 446.93,37.29 447.62,38.57 448.32,37.46 449.01,37.47 449.71,38.52 450.40,38.14 451.10,38.66 451.80,38.42 452.49,38.46 453.19,38.22 453.88,37.48 454.58,38.05 455.27,39.15 455.97,36.33 456.66,39.22 457.36,37.21 458.06,36.39 458.75,38.11 459.45,38.30 460.14,38.17 460.84,38.45 461.53,38.59 462.23,39.07 462.93,38.70 463.62,36.96 464.32,36.42 465.01,38.48 465.71,38.51 466.40,37.55 467.10,36.65 467.79,37.41 468.49,37.81 469.19,37.17 469.88,38.35 470.58,37.64 471.27,37.98 471.97,38.19 472.66,37.70 473.36,38.48 474.05,38.36 474.75,37.49 475.45,37.27 476.14,37.42 476.84,37.06 477.53,38.88 478.23,38.00 478.92,38.57 479.62,38.03 480.31,38.64 481.01,38.85 481.71,37.55 482.40,38.06 483.10,38.51 483.79,39.00 484.49,38.60 485.18,37.83 485.88,37.90 486.57,37.36 487.27,37.25 487.97,37.69 488.66,38.12 489.36,38.81 490.05,38.06 490.75,38.59 491.44,38.40 492.14,37.84 492.84,38.77 493.53,38.59 494.23,38.05 494.92,38.31 495.62,38.05 496.31,37.71 497.01,37.83 497.70,38.81 498.40,37.58" fill="none" stroke="#f6cc2a" stroke-width="1.6" stroke-linejoin="round" stroke-linecap="round" />
<text x="515.2" y="40.0" font-size="6.7" text-anchor="end" >270 K</text>
<polyline points="404.50,43.50 404.80,46.00 405.30,44.40 406.00,44.09 406.69,43.80 407.39,43.85 408.09,44.83 408.78,45.90 409.48,44.06 410.18,44.96 410.88,44.32 411.57,44.69 412.27,43.51 412.97,43.61 413.66,44.98 414.36,44.46 415.06,44.40 415.75,44.80 416.45,44.91 417.15,44.35 417.85,44.93 418.54,44.00 419.24,45.18 419.94,44.86 420.63,44.82 421.33,44.42 422.03,44.74 422.72,44.26 423.42,44.90 424.12,44.07 424.82,44.45 425.51,44.37 426.21,45.31 426.91,44.82 427.60,44.35 428.30,45.40 429.00,44.69 429.69,45.07 430.39,44.60 431.09,44.81 431.78,44.96 432.48,44.83 433.18,44.62 433.88,45.39 434.57,44.92 435.27,45.07 435.97,46.15 436.66,43.81 437.36,44.43 438.06,44.35 438.75,44.98 439.45,44.20 440.15,45.06 440.85,44.68 441.54,45.18 442.24,44.12 442.94,45.53 443.63,44.89 444.33,44.77 445.03,45.49 445.72,44.91 446.42,45.24 447.12,44.30 447.82,44.00 448.51,44.42 449.21,44.27 449.91,44.25 450.60,44.13 451.30,45.41 452.00,44.25 452.69,44.67 453.39,44.96 454.09,44.47 454.78,45.36 455.48,45.78 456.18,45.24 456.88,45.80 457.57,43.87 458.27,46.19 458.97,44.30 459.66,43.61 460.36,45.26 461.06,44.14 461.75,45.29 462.45,45.48 463.15,45.28 463.85,45.49 464.54,45.40 465.24,45.14 465.94,45.23 466.63,45.49 467.33,44.38 468.03,44.16 468.72,44.02 469.42,44.18 470.12,44.82 470.82,45.48 471.51,45.92 472.21,44.95 472.91,45.45 473.60,44.70 474.30,44.09 475.00,45.10 475.69,45.21 476.39,45.64 477.09,45.74 477.78,44.85 478.48,44.04 479.18,45.11 479.88,45.54 480.57,44.85 481.27,45.38 481.97,44.78 482.66,45.00 483.36,44.54 484.06,44.74 484.75,44.51 485.45,45.78 486.15,45.45 486.85,44.60 487.54,45.09 488.24,45.45 488.94,45.66 489.63,45.03 490.33,44.32 491.03,43.97 491.72,45.16 492.42,45.49 493.12,45.17 493.82,45.21 494.51,45.16 495.21,44.47 495.91,44.92 496.60,44.28 497.30,44.17" fill="none" stroke="#ece82a" stroke-width="1.6" stroke-linejoin="round" stroke-linecap="round" />
<text x="515.2" y="47.5" font-size="6.7" text-anchor="end" >260 K</text>
<polyline points="406.00,49.50 406.30,54.00 406.80,50.60 407.50,51.35 408.20,50.38 408.90,51.13 409.59,50.19 410.29,50.49 410.99,50.51 411.69,51.42 412.39,50.87 413.09,49.44 413.78,50.80 414.48,50.57 415.18,50.31 415.88,51.47 416.58,50.64 417.28,49.98 417.98,50.18 418.67,49.83 419.37,51.30 420.07,52.21 420.77,51.91 421.47,49.19 422.17,50.27 422.86,50.18 423.56,51.63 424.26,51.39 424.96,50.01 425.66,51.14 426.36,51.55 427.06,51.62 427.75,49.91 428.45,51.27 429.15,50.04 429.85,51.22 430.55,51.46 431.25,50.02 431.94,50.96 432.64,51.15 433.34,51.79 434.04,51.10 434.74,50.70 435.44,51.37 436.13,51.37 436.83,50.49 437.53,52.39 438.23,51.47 438.93,51.08 439.63,51.49 440.33,50.55 441.02,51.60 441.72,51.24 442.42,51.63 443.12,50.53 443.82,50.17 444.52,51.09 445.21,51.64 445.91,52.01 446.61,51.61 447.31,50.55 448.01,51.52 448.71,51.72 449.41,50.23 450.10,51.52 450.80,51.44 451.50,50.52 452.20,51.32 452.90,50.48 453.60,51.47 454.29,50.95 454.99,52.01 455.69,50.55 456.39,51.75 457.09,51.09 457.79,51.21 458.49,50.51 459.18,51.43 459.88,51.19 460.58,51.11 461.28,49.63 461.98,50.86 462.68,51.52 463.37,50.48 464.07,50.83 464.77,50.25 465.47,52.69 466.17,51.10 466.87,50.70 467.57,51.01 468.26,51.63 468.96,51.99 469.66,50.33 470.36,50.59 471.06,49.73 471.76,51.84 472.45,51.99 473.15,50.40 473.85,51.01 474.55,52.67 475.25,51.32 475.95,52.04 476.64,51.03 477.34,50.61 478.04,52.12 478.74,50.41 479.44,50.98 480.14,51.98 480.84,50.44 481.53,51.64 482.23,52.14 482.93,50.14 483.63,52.07 484.33,50.93 485.03,51.76 485.72,50.74 486.42,50.63 487.12,50.72 487.82,50.68 488.52,50.45 489.22,50.78 489.92,52.71 490.61,52.13 491.31,52.05 492.01,51.19 492.71,52.73 493.41,51.60 494.11,51.09 494.80,51.34 495.50,50.74 496.20,50.60 496.90,51.50" fill="none" stroke="#22dc2a" stroke-width="1.6" stroke-linejoin="round" stroke-linecap="round" />
<text x="515.2" y="54.4" font-size="6.7" text-anchor="end" >250 K</text>
<polyline points="406.70,57.50 407.00,60.50 407.50,58.70 408.20,59.89 408.89,58.56 409.59,58.31 410.28,58.43 410.98,58.72 411.68,59.47 412.37,60.28 413.07,60.02 413.76,58.24 414.46,58.39 415.16,58.24 415.85,59.67 416.55,59.56 417.24,58.13 417.94,58.01 418.64,58.44 419.33,57.95 420.03,58.54 420.73,57.24 421.42,58.89 422.12,58.73 422.81,58.35 423.51,58.21 424.21,59.36 424.90,58.33 425.60,57.56 426.29,58.88 426.99,58.37 427.69,59.28 428.38,59.06 429.08,58.14 429.77,58.76 430.47,58.13 431.17,58.64 431.86,59.60 432.56,58.08 433.25,58.92 433.95,58.55 434.65,59.57 435.34,58.38 436.04,59.16 436.73,59.06 437.43,59.03 438.13,59.70 438.82,59.68 439.52,59.41 440.21,59.49 440.91,60.23 441.61,59.04 442.30,59.11 443.00,58.20 443.70,58.57 444.39,58.36 445.09,59.65 445.78,57.80 446.48,58.55 447.18,59.42 447.87,59.15 448.57,58.40 449.26,59.52 449.96,57.93 450.66,59.14 451.35,58.47 452.05,58.50 452.74,59.81 453.44,59.40 454.14,58.57 454.83,59.97 455.53,59.05 456.22,59.24 456.92,60.00 457.62,58.92 458.31,58.92 459.01,60.09 459.70,59.97 460.40,59.86 461.10,59.30 461.79,60.03 462.49,59.12 463.19,59.02 463.88,58.50 464.58,59.29 465.27,58.13 465.97,59.79 466.67,59.54 467.36,60.00 468.06,58.48 468.75,58.90 469.45,58.92 470.15,60.10 470.84,58.90 471.54,59.23 472.23,58.98 472.93,59.63 473.63,59.67 474.32,59.41 475.02,59.33 475.71,58.76 476.41,58.22 477.11,59.24 477.80,58.95 478.50,59.57 479.19,59.63 479.89,59.71 480.59,59.82 481.28,59.54 481.98,59.40 482.67,59.00 483.37,59.49 484.07,59.63 484.76,59.02 485.46,59.02 486.16,59.49 486.85,60.39 487.55,60.00 488.24,58.74 488.94,59.42 489.64,59.18 490.33,59.97 491.03,58.67 491.72,59.99 492.42,59.27 493.12,59.89 493.81,60.21 494.51,59.62 495.20,60.03 495.90,59.56" fill="none" stroke="#2a6ee6" stroke-width="1.6" stroke-linejoin="round" stroke-linecap="round" />
<text x="515.2" y="62.199999999999996" font-size="6.7" text-anchor="end" >240 K</text>
<polyline points="409.40,63.80 409.70,70.60 410.20,68.30 410.89,68.68 411.59,67.64 412.28,67.43 412.98,68.48 413.67,69.16 414.37,68.19 415.06,69.01 415.76,68.13 416.45,68.28 417.15,67.99 417.84,68.47 418.54,68.05 419.23,69.01 419.93,68.28 420.62,68.04 421.32,68.64 422.01,67.66 422.71,68.09 423.40,69.02 424.10,67.89 424.79,69.16 425.49,66.98 426.18,68.43 426.88,68.94 427.57,69.35 428.27,68.49 428.96,68.26 429.66,68.64 430.35,69.28 431.05,68.52 431.74,68.08 432.44,68.60 433.13,69.18 433.83,68.48 434.52,68.73 435.22,68.23 435.91,69.09 436.61,68.20 437.30,69.12 437.99,67.84 438.69,68.89 439.38,69.43 440.08,68.41 440.77,68.19 441.47,68.58 442.16,68.00 442.86,68.77 443.55,69.48 444.25,67.77 444.94,69.12 445.64,68.95 446.33,67.99 447.03,68.77 447.72,68.08 448.42,68.72 449.11,68.90 449.81,69.54 450.50,68.49 451.20,67.55 451.89,67.95 452.59,67.61 453.28,69.25 453.98,69.23 454.67,67.12 455.37,68.37 456.06,68.43 456.76,68.28 457.45,70.00 458.15,68.44 458.84,68.51 459.54,69.97 460.23,69.56 460.93,68.95 461.62,67.92 462.32,69.39 463.01,69.47 463.71,68.41 464.40,69.59 465.09,69.58 465.79,68.58 466.48,68.28 467.18,69.47 467.87,69.32 468.57,68.21 469.26,68.24 469.96,68.44 470.65,68.13 471.35,68.62 472.04,68.05 472.74,69.88 473.43,68.39 474.13,68.46 474.82,68.02 475.52,68.58 476.21,69.24 476.91,68.14 477.60,68.21 478.30,69.49 478.99,68.28 479.69,69.30 480.38,69.73 481.08,69.72 481.77,68.43 482.47,68.26 483.16,68.50 483.86,69.09 484.55,68.48 485.25,68.43 485.94,68.27 486.64,69.03 487.33,69.45 488.03,69.25 488.72,68.64 489.42,68.24 490.11,69.62 490.81,69.29 491.50,69.20 491.20,66.60 491.50,70.00 491.80,69.00" fill="none" stroke="#3a94ea" stroke-width="1.6" stroke-linejoin="round" stroke-linecap="round" />
<text x="515.2" y="72.10000000000001" font-size="6.7" text-anchor="end" >230 K</text>
<polyline points="410.20,74.50 410.50,82.30 411.00,77.40 411.69,77.40 412.39,76.62 413.08,76.91 413.78,78.09 414.47,77.23 415.16,77.89 415.86,78.05 416.55,76.68 417.25,77.97 417.94,77.13 418.63,77.69 419.33,76.95 420.02,77.13 420.72,76.83 421.41,78.72 422.10,77.78 422.80,75.93 423.49,76.86 424.19,77.19 424.88,76.79 425.57,76.82 426.27,77.53 426.96,76.96 427.66,77.73 428.35,76.50 429.04,77.90 429.74,76.58 430.43,77.59 431.12,76.58 431.82,78.33 432.51,78.15 433.21,76.66 433.90,77.21 434.59,77.99 435.29,76.66 435.98,77.26 436.68,77.74 437.37,77.99 438.06,77.32 438.76,78.03 439.45,77.42 440.15,76.73 440.84,76.58 441.53,77.95 442.23,77.48 442.92,77.65 443.62,76.95 444.31,76.95 445.00,76.86 445.70,76.75 446.39,77.71 447.09,76.94 447.78,77.30 448.47,77.13 449.17,78.09 449.86,77.60 450.56,77.97 451.25,77.87 451.94,77.70 452.64,77.33 453.33,78.00 454.03,76.73 454.72,76.87 455.41,76.70 456.11,77.76 456.80,76.70 457.50,77.34 458.19,76.80 458.88,75.83 459.58,77.85 460.27,78.09 460.97,77.51 461.66,77.36 462.35,76.84 463.05,76.51 463.74,77.66 464.44,78.18 465.13,76.95 465.82,76.75 466.52,78.28 467.21,77.03 467.91,77.65 468.60,78.17 469.29,77.91 469.99,77.84 470.68,76.83 471.38,77.08 472.07,77.49 472.76,78.00 473.46,76.57 474.15,77.63 474.84,77.77 475.54,78.20 476.23,77.40 476.93,77.04 477.62,76.64 478.31,76.79 479.01,78.25 479.70,75.93 480.40,76.84 481.09,76.51 481.78,78.04 482.48,77.27 483.17,77.69 483.87,77.26 484.56,77.29 485.25,77.99 485.95,76.80 486.64,77.30 487.34,77.13 488.03,76.65 488.72,77.33 489.42,78.14 490.11,78.25 490.81,77.62 491.50,76.61 491.20,74.90 491.50,78.80 491.80,77.40" fill="none" stroke="#4a3ce6" stroke-width="1.6" stroke-linejoin="round" stroke-linecap="round" />
<text x="515.2" y="79.7" font-size="6.7" text-anchor="end" >220 K</text>
<polyline points="410.70,84.60 411.00,89.60 411.50,86.90 412.20,87.11 412.90,87.05 413.59,86.89 414.29,86.57 414.99,87.64 415.69,85.96 416.39,86.87 417.09,87.48 417.78,87.12 418.48,87.04 419.18,86.81 419.88,85.98 420.58,87.10 421.28,88.18 421.97,86.30 422.67,86.59 423.37,87.15 424.07,87.19 424.77,87.11 425.46,86.32 426.16,86.32 426.86,87.75 427.56,87.49 428.26,86.42 428.96,87.52 429.65,88.18 430.35,86.55 431.05,87.26 431.75,86.50 432.45,86.37 433.15,86.94 433.84,87.48 434.54,86.83 435.24,87.07 435.94,87.43 436.64,87.33 437.34,87.89 438.03,87.68 438.73,87.72 439.43,87.84 440.13,86.85 440.83,88.07 441.52,86.46 442.22,86.57 442.92,87.84 443.62,88.66 444.32,86.87 445.02,87.23 445.71,87.48 446.41,85.81 447.11,88.31 447.81,87.45 448.51,87.70 449.21,86.73 449.90,87.45 450.60,87.95 451.30,86.52 452.00,86.78 452.70,88.09 453.39,86.59 454.09,88.01 454.79,87.25 455.49,86.84 456.19,87.27 456.89,87.67 457.58,86.93 458.28,88.20 458.98,86.68 459.68,87.26 460.38,87.65 461.08,87.26 461.77,87.78 462.47,86.68 463.17,88.42 463.87,86.42 464.57,87.16 465.26,87.58 465.96,87.71 466.66,88.42 467.36,86.76 468.06,88.10 468.76,88.11 469.45,87.87 470.15,87.24 470.85,88.32 471.55,87.98 472.25,88.14 472.95,87.69 473.64,87.41 474.34,87.52 475.04,87.18 475.74,88.59 476.44,87.48 477.14,87.25 477.83,87.08 478.53,88.93 479.23,87.65 479.93,87.40 480.63,86.99 481.32,87.43 482.02,87.88 482.72,87.51 483.42,87.95 484.12,86.78 484.82,88.70 485.51,88.32 486.21,88.50 486.91,87.80 487.61,87.45 488.31,87.01 489.01,87.46 489.70,87.38 490.40,87.35 491.10,88.56 490.80,85.00 491.10,93.30 491.40,87.90" fill="none" stroke="#5234dc" stroke-width="1.6" stroke-linejoin="round" stroke-linecap="round" />
<text x="515.2" y="90.0" font-size="6.7" text-anchor="end" >210 K</text>
<polyline points="412.60,95.30 412.90,103.00 413.40,97.00 414.09,96.46 414.79,97.84 415.48,96.26 416.17,97.69 416.87,96.37 417.56,97.09 418.26,97.28 418.95,96.52 419.64,97.49 420.34,96.87 421.03,96.76 421.72,96.78 422.42,97.46 423.11,97.05 423.81,96.63 424.50,96.20 425.19,97.19 425.89,96.28 426.58,97.49 427.27,96.36 427.97,96.45 428.66,96.36 429.35,96.97 430.05,97.27 430.74,97.40 431.44,96.81 432.13,96.69 432.82,97.60 433.52,96.79 434.21,97.99 434.90,96.74 435.60,97.94 436.29,95.58 436.99,97.43 437.68,96.91 438.37,96.67 439.07,96.43 439.76,96.00 440.45,97.18 441.15,96.61 441.84,96.94 442.54,96.16 443.23,97.95 443.92,96.35 444.62,96.74 445.31,97.21 446.00,96.93 446.70,97.14 447.39,97.95 448.08,97.97 448.78,97.70 449.47,97.89 450.17,97.44 450.86,98.00 451.55,97.48 452.25,96.81 452.94,97.14 453.63,96.73 454.33,97.52 455.02,98.16 455.72,97.40 456.41,97.93 457.10,96.86 457.80,97.87 458.49,96.99 459.18,98.00 459.88,97.63 460.57,97.22 461.26,98.00 461.96,98.01 462.65,97.82 463.35,96.75 464.04,98.22 464.73,96.48 465.43,98.86 466.12,98.66 466.81,97.77 467.51,96.29 468.20,96.62 468.90,98.11 469.59,98.05 470.28,96.53 470.98,97.90 471.67,96.55 472.36,96.90 473.06,96.68 473.75,98.96 474.45,98.08 475.14,97.36 475.83,97.18 476.53,97.74 477.22,98.18 477.91,96.72 478.61,97.42 479.30,97.16 479.99,98.27 480.69,97.85 481.38,96.86 482.08,96.67 482.77,97.48 483.46,97.56 484.16,96.58 484.85,97.74 485.54,97.56 486.24,98.34 486.93,97.87 487.63,97.15 488.32,98.34 489.01,97.28 489.71,96.85 490.40,96.61 490.10,94.80 490.40,99.80 490.70,97.50" fill="none" stroke="#a840e2" stroke-width="1.6" stroke-linejoin="round" stroke-linecap="round" />
<text x="515.2" y="100.0" font-size="6.7" text-anchor="end" >200 K</text>
<text x="357.6" y="131.8" font-size="12.0" text-anchor="start" >(j)</text>
<line x1="385.7" y1="135.0" x2="387.5" y2="135.0" stroke="#a0a0a0" stroke-width="0.8"/>
<text x="385.3" y="137.6" font-size="7.8" text-anchor="end" >0.5</text>
<line x1="385.7" y1="164.6" x2="387.5" y2="164.6" stroke="#a0a0a0" stroke-width="0.8"/>
<text x="385.3" y="167.2" font-size="7.8" text-anchor="end" >0.4</text>
<line x1="385.7" y1="194.2" x2="387.5" y2="194.2" stroke="#a0a0a0" stroke-width="0.8"/>
<text x="385.3" y="196.79999999999998" font-size="7.8" text-anchor="end" >0.3</text>
<line x1="385.7" y1="223.8" x2="387.5" y2="223.8" stroke="#a0a0a0" stroke-width="0.8"/>
<text x="385.3" y="226.4" font-size="7.8" text-anchor="end" >0.2</text>
<line x1="387.6" y1="232" x2="387.6" y2="233.8" stroke="#a0a0a0" stroke-width="0.8"/>
<text x="387.6" y="242.4" font-size="7.8" text-anchor="middle" >-0.3</text>
<line x1="408.8" y1="232" x2="408.8" y2="233.8" stroke="#a0a0a0" stroke-width="0.8"/>
<text x="408.8" y="242.4" font-size="7.8" text-anchor="middle" >-0.2</text>
<line x1="430.0" y1="232" x2="430.0" y2="233.8" stroke="#a0a0a0" stroke-width="0.8"/>
<text x="430.0" y="242.4" font-size="7.8" text-anchor="middle" >-0.1</text>
<line x1="451.20000000000005" y1="232" x2="451.20000000000005" y2="233.8" stroke="#a0a0a0" stroke-width="0.8"/>
<text x="451.20000000000005" y="242.4" font-size="7.8" text-anchor="middle" >0.0</text>
<line x1="472.40000000000003" y1="232" x2="472.40000000000003" y2="233.8" stroke="#a0a0a0" stroke-width="0.8"/>
<text x="472.40000000000003" y="242.4" font-size="7.8" text-anchor="middle" >0.1</text>
<line x1="493.6" y1="232" x2="493.6" y2="233.8" stroke="#a0a0a0" stroke-width="0.8"/>
<text x="493.6" y="242.4" font-size="7.8" text-anchor="middle" >0.2</text>
<line x1="514.8" y1="232" x2="514.8" y2="233.8" stroke="#a0a0a0" stroke-width="0.8"/>
<text x="514.8" y="242.4" font-size="7.8" text-anchor="middle" >0.3</text>
<text x="451.3" y="253.4" font-size="9.8" text-anchor="middle" >V (V)</text>
<text transform="translate(370.6,182.1) rotate(-90)" font-size="9.9" text-anchor="middle">dI/dV (a.u.)</text>
<polyline points="388.00,137.92 388.80,138.27 389.60,137.54 390.40,137.93 391.20,137.67 392.00,137.53 392.80,137.48 393.60,137.40 394.40,138.20 395.20,138.13 396.00,138.27 396.80,137.33 397.60,138.04 398.40,137.64 399.20,138.00 400.00,137.89 400.80,137.64 401.60,138.36 402.40,137.30 403.20,138.12 404.00,138.24 404.80,137.86 405.60,137.96 406.40,138.40 407.20,137.57 408.00,138.00 408.80,138.13 409.60,137.73 410.40,138.10 411.20,137.76 412.00,137.90 412.80,138.00 413.60,138.07 414.40,137.69 415.20,138.03 416.00,137.93 416.80,137.59 417.60,138.02 418.40,137.64 419.20,138.35 420.00,137.87 420.79,138.14 421.58,137.92 422.37,137.87 423.16,137.59 423.95,137.51 424.74,138.37 425.53,137.93 426.32,137.93 427.11,137.93 427.89,138.24 428.68,137.61 429.47,137.54 430.26,138.25 431.05,137.86 431.84,138.05 432.63,138.26 433.42,138.33 434.21,138.30 435.00,137.40 435.79,137.77 436.58,138.27 437.37,138.25 438.16,137.49 438.95,137.52 439.74,137.63 440.53,137.46 441.32,137.74 442.11,138.23 442.89,137.92 443.68,137.85 444.47,137.45 445.26,137.79 446.05,138.45 446.84,138.11 447.63,137.84 448.42,137.88 449.21,138.23 450.00,138.18 450.79,137.52 451.58,138.11 452.37,137.77 453.16,137.94 453.95,137.64 454.74,137.79 455.53,137.76 456.32,137.81 457.11,137.42 457.89,137.62 458.68,138.04 459.47,137.48 460.26,137.61 461.05,138.21 461.84,137.73 462.63,137.79 463.42,137.71 464.21,138.36 465.00,137.55 465.79,138.16 466.58,138.41 467.37,137.69 468.16,137.94 468.95,138.35 469.74,138.16 470.53,137.90 471.32,137.54 472.11,137.98 472.89,137.91 473.68,138.29 474.47,137.84 475.26,137.97 476.05,138.24 476.84,138.42 477.63,137.92 478.42,137.96 479.21,138.18 480.00,138.57 480.80,137.77 481.60,138.63 482.41,138.35 483.21,137.99 484.01,138.32 484.81,137.95 485.62,137.68 486.42,138.44 487.22,138.03 488.02,138.20 488.83,138.17 489.63,138.63 490.43,138.47 491.23,137.68 492.03,138.31 492.84,138.17 493.64,138.18 494.44,138.60 495.24,138.14 496.05,138.21 496.85,138.68 497.65,138.19 498.45,138.25 499.26,138.28 500.06,138.63 500.86,138.47 501.66,138.55 502.47,138.19 503.27,137.80 504.07,138.51 504.87,138.38 505.67,138.62 506.48,138.63 507.28,137.92 508.08,138.04 508.88,137.89 509.69,138.71 510.49,137.93 511.29,137.92 512.09,138.66 512.90,138.46 513.70,137.90 514.50,138.60" fill="none" stroke="#d42a2a" stroke-width="1.6" stroke-linejoin="round" stroke-linecap="round" />
<polyline points="388.00,148.83 388.80,148.52 389.60,147.99 390.40,148.63 391.20,148.27 392.00,148.39 393.00,148.20 394.00,147.35 395.00,148.16 396.00,148.11 396.80,148.32 397.60,148.53 398.40,147.98 399.20,149.06 400.00,148.29 400.80,148.28 401.60,148.34 402.40,148.28 403.20,148.95 404.00,148.63 404.80,148.59 405.60,148.49 406.40,148.09 407.20,148.38 408.00,149.00 408.80,148.94 409.60,149.01 410.40,148.35 411.20,148.30 412.00,148.14 412.80,148.68 413.60,148.51 414.40,148.61 415.20,148.65 416.00,148.76 416.80,148.53 417.60,149.01 418.40,148.36 419.20,149.15 420.00,148.76 420.79,148.20 421.58,148.48 422.37,148.71 423.16,148.57 423.95,148.73 424.74,148.46 425.53,148.40 426.32,148.96 427.11,148.40 427.89,148.85 428.68,148.95 429.47,148.71 430.26,148.55 431.05,149.07 431.84,148.52 432.63,148.99 433.42,148.08 434.21,148.48 435.00,148.70 435.79,148.05 436.58,148.93 437.37,148.06 438.16,148.62 438.95,148.16 439.74,148.97 440.53,148.56 441.32,148.82 442.11,148.48 442.89,148.66 443.68,148.66 444.47,148.23 445.26,148.13 446.05,148.81 446.84,148.04 447.63,148.88 448.42,148.09 449.21,147.97 450.00,147.95 450.79,148.71 451.58,148.89 452.37,148.30 453.16,148.56 453.95,148.12 454.74,148.83 455.53,148.59 456.32,148.00 457.11,147.89 457.89,148.59 458.68,147.87 459.47,148.74 460.26,148.14 461.05,148.07 461.84,148.45 462.63,148.16 463.42,148.42 464.21,147.97 465.00,148.80 465.79,148.15 466.58,148.72 467.37,147.96 468.16,148.67 468.95,148.86 469.74,148.21 470.53,147.82 471.32,148.20 472.11,148.48 472.89,148.02 473.68,148.37 474.47,147.87 475.26,148.28 476.05,148.56 476.84,148.23 477.63,148.50 478.42,147.88 479.21,148.66 480.00,147.88 480.80,148.76 481.60,148.83 482.41,148.76 483.21,148.30 484.01,148.03 484.81,148.09 485.62,148.53 486.42,148.24 487.22,148.71 488.02,147.78 488.83,148.21 489.63,148.62 490.43,148.32 491.23,148.25 492.03,147.74 492.84,147.79 493.64,147.93 494.44,148.61 495.24,148.55 496.05,147.86 496.85,148.62 497.65,147.63 498.45,148.25 499.26,148.65 500.06,147.95 500.86,148.61 501.66,148.28 502.47,147.61 503.27,147.91 504.07,148.04 504.87,147.81 505.67,148.34 506.48,147.72 507.28,148.38 508.08,147.83 508.88,147.58 509.69,148.11 510.49,147.59 511.29,148.08 512.09,148.34 512.90,148.12 513.70,147.96 514.50,147.49" fill="none" stroke="#ea7a2c" stroke-width="1.6" stroke-linejoin="round" stroke-linecap="round" />
<polyline points="388.00,159.01 389.00,157.91 390.00,157.86 391.00,157.95 392.00,159.09 392.80,158.83 393.60,158.84 394.40,159.15 395.20,158.58 396.00,158.58 396.80,159.42 397.60,158.73 398.40,159.29 399.20,159.31 400.00,158.86 400.80,158.49 401.60,158.42 402.40,159.27 403.20,158.42 404.00,158.82 404.80,158.86 405.60,158.39 406.40,158.76 407.20,158.41 408.00,158.81 408.80,158.77 409.60,158.60 410.40,158.40 411.20,158.62 412.00,158.39 412.80,158.29 413.60,158.41 414.40,159.09 415.20,158.67 416.00,159.09 416.80,158.11 417.60,159.12 418.40,158.61 419.20,158.93 420.00,158.68 420.79,158.79 421.58,158.27 422.37,158.82 423.16,158.15 423.95,158.25 424.74,157.97 425.53,158.35 426.32,158.47 427.11,158.21 427.89,158.85 428.68,157.94 429.47,158.47 430.26,158.07 431.05,158.45 431.84,158.64 432.63,158.54 433.42,157.81 434.21,157.99 435.00,158.36 435.79,158.76 436.58,157.71 437.37,158.32 438.16,158.39 438.95,158.50 439.74,157.97 440.53,158.46 441.32,158.06 442.11,158.55 442.89,157.53 443.68,158.53 444.47,157.93 445.26,157.91 446.05,157.54 446.84,157.69 447.63,158.21 448.42,158.13 449.21,157.53 450.00,157.73 450.79,157.50 451.58,157.57 452.37,157.59 453.16,157.71 453.95,158.42 454.74,158.45 455.53,158.22 456.32,157.88 457.11,157.90 457.89,158.21 458.68,158.35 459.47,158.18 460.26,158.05 461.05,157.57 461.84,158.04 462.63,158.28 463.42,158.22 464.21,157.45 465.00,158.14 465.79,157.73 466.58,157.53 467.37,158.41 468.16,158.09 468.95,158.17 469.74,157.50 470.53,158.26 471.32,158.38 472.11,158.35 472.89,158.17 473.68,158.27 474.47,158.23 475.26,158.00 476.05,157.83 476.84,158.26 477.63,158.21 478.42,158.31 479.21,157.68 480.00,158.41 480.81,157.93 481.61,158.38 482.42,157.46 483.23,158.39 484.03,158.18 484.84,157.59 485.65,158.23 486.45,157.55 487.26,157.51 488.06,157.79 488.87,157.54 489.68,157.81 490.48,158.27 491.29,158.01 492.10,158.03 492.90,157.68 493.71,158.10 494.52,158.11 495.32,157.98 496.13,158.26 496.94,158.12 497.74,157.65 498.55,157.30 499.35,157.91 500.16,158.11 500.97,157.56 501.77,157.83 502.58,158.09 503.39,158.04 504.19,157.16 505.00,157.69 505.79,157.07 506.58,157.07 507.38,157.74 508.17,157.21 508.96,157.32 509.75,157.05 510.54,156.82 511.33,156.59 512.12,156.64 512.92,157.08 513.71,156.73 514.50,156.27" fill="none" stroke="#f2c22a" stroke-width="1.6" stroke-linejoin="round" stroke-linecap="round" />
<polyline points="388.00,167.75 388.80,167.97 389.60,168.46 390.40,168.20 391.20,168.46 392.00,168.64 392.72,167.50 393.44,167.74 394.16,166.66 394.88,167.14 395.60,166.05 396.40,166.58 397.20,167.77 398.00,167.55 398.80,167.38 399.60,168.10 400.40,167.78 401.20,168.08 402.00,167.52 402.80,167.62 403.60,168.11 404.40,167.60 405.20,168.12 406.00,167.23 406.80,167.92 407.60,167.17 408.40,167.56 409.20,166.96 410.00,167.14 410.79,168.00 411.58,167.47 412.37,167.87 413.16,167.26 413.95,167.39 414.74,167.12 415.53,167.62 416.32,167.97 417.11,167.60 417.90,167.46 418.70,168.08 419.49,168.05 420.28,167.81 421.07,167.17 421.86,167.78 422.65,167.59 423.44,168.17 424.23,167.52 425.02,167.86 425.81,167.84 426.60,167.56 427.41,167.84 428.22,168.13 429.03,168.51 429.84,168.18 430.65,168.15 431.46,168.94 432.27,168.05 433.08,169.03 433.89,168.98 434.70,168.96 435.52,168.68 436.34,168.86 437.16,168.85 437.98,168.51 438.80,168.37 439.62,167.43 440.44,167.59 441.26,167.22 442.08,167.96 442.90,167.73 443.72,166.61 444.55,166.80 445.38,166.48 446.20,165.60 447.02,165.68 447.85,165.77 448.68,165.36 449.50,164.66 450.25,163.84 451.00,161.97 451.75,163.80 452.50,165.21 453.30,166.11 454.10,166.04 454.90,166.49 455.70,166.64 456.50,166.60 457.30,167.52 458.10,167.53 458.91,167.67 459.72,167.38 460.53,167.41 461.34,168.02 462.15,168.46 462.96,168.58 463.77,168.25 464.58,168.18 465.39,168.76 466.20,169.32 467.01,168.49 467.83,169.08 468.64,168.42 469.45,168.53 470.27,168.21 471.08,168.44 471.89,168.49 472.71,169.09 473.52,169.05 474.33,168.16 475.15,168.25 475.96,168.91 476.77,168.05 477.59,168.14 478.40,168.23 479.21,167.80 480.03,167.90 480.84,167.98 481.65,167.91 482.47,168.48 483.28,167.64 484.09,167.51 484.91,168.22 485.72,167.65 486.53,168.00 487.35,167.72 488.16,167.81 488.97,167.23 489.79,166.98 490.60,167.58 491.41,167.19 492.22,167.20 493.03,167.25 493.84,167.26 494.65,166.65 495.46,166.67 496.27,167.20 497.08,166.69 497.89,166.35 498.70,166.64 499.49,166.18 500.28,166.68 501.07,165.82 501.86,166.62 502.65,166.27 503.44,165.98 504.23,166.56 505.02,165.76 505.81,165.68 506.60,165.43 507.39,165.89 508.18,166.06 508.97,165.92 509.76,165.56 510.55,165.94 511.34,165.11 512.13,165.27 512.92,165.58 513.71,165.87 514.50,165.45" fill="none" stroke="#6ce040" stroke-width="1.6" stroke-linejoin="round" stroke-linecap="round" />
<polyline points="387.80,175.51 388.54,176.00 389.28,175.98 390.02,176.98 390.76,177.17 391.50,177.13 392.40,176.95 393.30,177.17 394.20,176.43 395.30,173.65 396.40,177.71 397.15,177.42 397.90,177.50 398.65,177.75 399.40,178.09 400.15,177.33 400.90,177.65 401.65,177.44 402.40,177.90 403.18,178.05 403.96,178.49 404.74,178.33 405.51,178.29 406.29,178.14 407.07,178.38 407.85,178.10 408.63,178.78 409.41,178.77 410.19,178.87 410.96,178.17 411.74,178.79 412.52,178.93 413.30,178.70 414.12,179.21 414.94,179.28 415.76,179.18 416.58,179.33 417.40,179.21 418.22,179.54 419.04,178.78 419.86,179.48 420.68,179.55 421.50,179.52 422.32,179.41 423.14,179.44 423.96,180.29 424.78,180.80 425.60,180.45 426.42,180.38 427.24,180.40 428.06,180.25 428.88,180.89 429.70,181.22 430.51,180.67 431.32,179.82 432.14,179.83 432.95,178.78 433.76,179.26 434.57,178.33 435.39,177.62 436.20,177.94 437.02,176.99 437.84,176.73 438.66,176.09 439.48,176.10 440.30,175.81 441.12,175.68 441.94,174.42 442.76,174.88 443.58,173.68 444.40,173.40 445.22,173.29 446.03,172.42 446.85,171.86 447.67,171.58 448.48,170.64 449.30,170.72 450.15,168.43 451.00,167.47 451.83,168.81 452.67,169.87 453.50,170.68 454.31,171.96 455.12,171.59 455.93,172.57 456.74,172.94 457.56,173.00 458.37,174.08 459.18,174.64 459.99,174.94 460.80,175.19 461.60,175.61 462.40,176.00 463.20,175.90 464.00,176.90 464.80,177.35 465.60,177.43 466.40,177.91 467.20,177.51 468.00,178.53 468.80,177.83 469.60,178.58 470.40,178.50 471.20,179.15 472.00,179.70 472.80,179.70 473.60,179.40 474.40,179.24 475.20,179.05 476.00,179.26 476.80,179.10 477.60,178.97 478.40,179.54 479.20,179.27 480.00,179.16 480.80,178.87 481.60,179.28 482.40,178.59 483.20,178.52 484.00,178.71 484.80,178.72 485.60,178.88 486.40,178.49 487.20,178.57 488.00,178.40 488.80,178.04 489.61,177.77 490.42,176.78 491.23,176.67 492.04,176.18 492.85,176.85 493.66,176.42 494.47,176.05 495.28,175.38 496.09,175.21 496.90,174.73 497.80,174.41 498.70,173.97 499.60,172.39 500.40,173.13 501.20,174.31 502.00,175.54 502.75,176.39 503.50,176.53 504.25,176.40 505.00,176.26 505.77,176.55 506.54,176.89 507.31,177.86 508.09,177.81 508.86,178.67 509.63,178.87 510.40,179.02 511.22,178.73 512.04,179.17 512.86,178.47 513.68,178.51 514.50,179.07" fill="none" stroke="#38d89a" stroke-width="1.6" stroke-linejoin="round" stroke-linecap="round" />
<polyline points="388.30,185.51 389.00,182.68 390.00,185.93 390.75,185.80 391.50,186.90 392.25,186.81 393.00,187.19 393.78,187.17 394.56,186.52 395.33,186.79 396.11,186.35 396.89,186.77 397.67,186.74 398.44,185.91 399.22,185.72 400.00,185.89 400.75,186.14 401.50,185.77 402.25,185.21 403.00,185.96 403.75,185.76 404.50,185.26 405.20,184.25 405.90,184.63 406.50,182.59 407.10,180.43 408.30,187.71 409.18,188.91 410.05,190.07 410.93,190.51 411.80,191.55 412.64,191.32 413.48,191.60 414.32,192.57 415.16,192.23 416.00,192.16 416.83,192.88 417.67,192.56 418.50,192.82 419.33,193.29 420.17,193.61 421.00,193.85 421.79,193.67 422.58,193.12 423.37,192.46 424.16,192.92 424.94,191.93 425.73,192.13 426.52,191.80 427.31,191.85 428.10,191.64 428.88,190.72 429.66,190.79 430.43,190.44 431.21,189.81 431.99,189.06 432.77,189.52 433.54,188.79 434.32,187.81 435.10,187.61 435.87,187.99 436.63,186.71 437.40,186.45 438.17,186.44 438.93,186.03 439.70,185.38 440.47,185.05 441.23,183.84 442.00,183.45 442.78,183.91 443.57,183.20 444.35,181.84 445.13,181.34 445.92,181.03 446.70,181.27 447.48,179.12 448.25,178.24 449.02,177.15 449.80,175.45 451.00,172.66 452.00,174.29 453.00,176.52 453.77,177.15 454.53,178.75 455.30,178.81 456.07,180.55 456.83,181.05 457.60,181.26 458.38,182.40 459.16,182.16 459.94,183.01 460.72,183.03 461.50,184.24 462.28,184.82 463.06,185.31 463.84,184.77 464.62,186.17 465.40,186.31 466.17,187.02 466.93,187.09 467.70,187.63 468.47,188.02 469.23,188.66 470.00,188.29 470.83,188.54 471.67,189.36 472.50,189.35 473.33,189.75 474.17,189.60 475.00,190.69 475.83,190.17 476.67,191.33 477.50,191.59 478.33,191.34 479.17,191.11 480.00,191.83 480.83,191.48 481.67,191.87 482.50,191.65 483.33,192.75 484.17,192.41 485.00,192.34 485.83,191.91 486.67,192.48 487.50,192.47 488.33,192.33 489.17,191.37 490.00,191.52 490.83,191.31 491.67,191.68 492.50,190.86 493.33,191.23 494.17,191.50 495.00,191.13 495.83,190.15 496.67,190.09 497.50,189.99 498.33,190.49 499.17,190.25 500.00,190.02 500.77,190.01 501.54,190.02 502.31,190.30 503.08,190.40 503.85,190.76 504.62,190.62 505.39,190.75 506.16,190.93 506.93,190.91 507.70,190.84 508.46,190.08 509.21,190.80 509.97,190.98 510.72,190.52 511.48,191.02 512.23,190.25 512.99,191.09 513.74,190.54 514.50,190.83" fill="none" stroke="#34b4e4" stroke-width="1.6" stroke-linejoin="round" stroke-linecap="round" />
<polyline points="388.30,198.13 389.09,198.14 389.88,198.14 390.67,198.07 391.46,197.78 392.24,198.11 393.03,198.66 393.82,198.26 394.61,198.52 395.40,198.29 396.18,198.63 396.96,199.05 397.73,199.04 398.51,198.77 399.29,199.00 400.07,199.44 400.84,199.26 401.62,199.75 402.40,200.72 403.18,201.21 403.96,201.00 404.73,201.93 405.51,202.38 406.29,202.95 407.07,203.29 407.84,203.45 408.62,203.42 409.40,204.66 410.22,204.18 411.05,204.61 411.88,204.42 412.70,204.69 413.52,205.25 414.35,204.45 415.18,204.95 416.00,205.16 416.83,205.04 417.67,205.48 418.50,204.90 419.33,205.46 420.17,205.21 421.00,205.51 421.79,204.22 422.58,204.02 423.37,203.77 424.16,204.11 424.94,202.80 425.73,202.74 426.52,202.90 427.31,202.87 428.10,201.64 428.88,201.41 429.66,201.16 430.43,200.64 431.21,200.18 431.99,199.67 432.77,198.59 433.54,198.08 434.32,197.30 435.10,197.51 435.87,196.50 436.63,196.08 437.40,196.38 438.17,195.55 438.93,195.01 439.70,194.61 440.47,194.06 441.23,193.69 442.00,192.78 442.78,191.42 443.56,190.32 444.34,189.17 445.12,188.45 445.90,187.11 446.67,185.32 447.45,183.99 448.23,182.77 449.00,180.71 449.80,178.65 450.60,177.60 451.20,176.15 452.03,177.89 452.87,179.95 453.70,181.90 454.52,183.54 455.33,184.61 456.15,186.25 456.97,186.89 457.78,189.14 458.60,189.83 459.41,190.98 460.23,190.71 461.04,192.20 461.85,192.15 462.66,193.45 463.48,194.01 464.29,194.48 465.10,194.66 465.93,194.77 466.75,195.38 467.57,196.58 468.40,196.17 469.23,197.14 470.05,197.47 470.88,197.96 471.70,197.85 472.52,198.15 473.35,198.43 474.18,199.74 475.00,199.42 475.82,200.05 476.65,200.30 477.48,200.26 478.30,200.42 479.14,200.69 479.98,201.94 480.81,201.47 481.65,202.71 482.49,202.37 483.32,203.09 484.16,202.78 485.00,203.82 485.83,203.12 486.67,203.13 487.50,203.19 488.33,202.63 489.17,202.67 490.00,203.16 490.83,202.49 491.67,202.48 492.50,202.79 493.33,201.86 494.17,201.50 495.00,201.19 495.83,201.04 496.67,200.69 497.50,200.66 498.33,200.14 499.17,200.24 500.00,199.01 500.82,199.60 501.64,199.71 502.45,198.96 503.27,198.66 504.09,199.02 504.91,198.59 505.73,198.88 506.55,199.08 507.36,198.32 508.18,198.26 509.00,198.58 509.79,198.06 510.57,197.93 511.36,197.98 512.14,197.44 512.93,197.20 513.71,197.33 514.50,197.27" fill="none" stroke="#3450d8" stroke-width="1.6" stroke-linejoin="round" stroke-linecap="round" />
<polyline points="388.30,210.18 389.14,209.49 389.99,208.69 390.83,208.58 391.67,208.88 392.51,208.41 393.36,208.48 394.20,208.31 395.04,208.54 395.89,208.06 396.73,209.32 397.57,209.20 398.41,209.23 399.26,209.49 400.10,210.60 400.93,210.54 401.76,211.06 402.59,211.91 403.41,213.30 404.24,213.44 405.07,214.40 405.90,214.33 406.74,215.02 407.59,215.14 408.43,215.29 409.27,216.06 410.11,216.00 410.96,216.01 411.80,217.23 412.64,216.74 413.48,216.47 414.32,216.34 415.16,217.11 416.00,217.02 416.83,216.31 417.67,216.63 418.50,216.76 419.33,216.37 420.17,215.87 421.00,216.00 421.79,215.73 422.58,215.39 423.37,214.44 424.16,214.78 424.94,214.55 425.73,213.93 426.52,213.67 427.31,212.74 428.10,212.94 428.88,211.63 429.66,211.16 430.43,211.04 431.21,210.85 431.99,209.43 432.77,209.06 433.54,208.33 434.32,208.26 435.10,207.40 435.87,206.94 436.63,207.03 437.40,206.32 438.17,206.19 438.93,205.08 439.70,204.86 440.47,203.61 441.23,204.12 442.00,202.81 442.78,201.83 443.56,200.63 444.34,199.87 445.12,198.13 445.90,197.44 446.67,195.06 447.45,192.64 448.23,191.34 449.00,188.67 449.80,187.25 450.60,184.35 451.40,181.70 452.17,185.37 452.93,187.54 453.70,190.50 454.52,191.98 455.33,193.89 456.15,194.73 456.97,196.66 457.78,197.98 458.60,200.26 459.42,200.17 460.23,201.65 461.05,202.08 461.87,203.12 462.68,204.05 463.50,205.03 464.32,204.95 465.13,205.61 465.95,206.03 466.77,207.51 467.58,207.16 468.40,207.70 469.22,208.52 470.03,208.99 470.85,209.73 471.67,209.21 472.48,209.81 473.30,210.13 474.13,211.01 474.97,211.28 475.80,211.65 476.63,212.59 477.47,212.76 478.30,213.40 479.14,213.69 479.98,213.12 480.81,214.05 481.65,213.65 482.49,213.44 483.32,214.58 484.16,213.88 485.00,213.97 485.83,214.27 486.67,214.27 487.50,215.01 488.33,214.91 489.17,214.41 490.00,214.53 490.83,214.88 491.67,214.84 492.50,214.67 493.33,214.29 494.17,213.63 495.00,213.55 495.83,213.79 496.67,213.48 497.50,213.50 498.33,213.38 499.17,213.23 500.00,212.16 500.77,211.85 501.54,212.58 502.31,212.04 503.08,211.43 503.85,211.81 504.62,211.15 505.39,210.95 506.16,210.91 506.93,210.91 507.70,210.90 508.46,209.99 509.21,210.48 509.97,210.10 510.72,209.69 511.48,209.67 512.23,209.56 512.99,208.45 513.74,208.72 514.50,208.70" fill="none" stroke="#5a34d8" stroke-width="1.6" stroke-linejoin="round" stroke-linecap="round" />
<polyline points="388.30,219.33 389.08,219.15 389.87,218.51 390.65,219.25 391.43,218.95 392.22,218.22 393.00,218.32 393.84,219.23 394.69,218.74 395.53,219.29 396.37,220.22 397.21,220.48 398.06,220.08 398.90,220.96 399.68,221.33 400.47,222.45 401.25,223.34 402.03,223.42 402.82,224.31 403.60,225.09 404.38,225.53 405.17,225.66 405.95,226.15 406.73,226.83 407.52,227.23 408.30,227.24 409.11,227.82 409.93,228.24 410.74,227.87 411.56,227.66 412.37,228.07 413.19,227.80 414.00,227.54 414.78,227.78 415.56,227.17 416.33,227.79 417.11,227.13 417.89,227.26 418.67,227.81 419.44,227.49 420.22,227.47 421.00,227.16 421.79,226.84 422.58,226.60 423.37,226.58 424.16,225.42 424.94,225.74 425.73,224.91 426.52,224.55 427.31,224.86 428.10,224.31 428.88,224.06 429.66,223.57 430.43,222.73 431.21,221.78 431.99,221.06 432.77,221.11 433.54,220.79 434.32,219.77 435.10,219.03 435.87,218.09 436.63,217.41 437.40,217.12 438.17,215.49 438.93,214.87 439.70,214.04 440.47,213.67 441.23,213.10 442.00,211.17 442.78,209.88 443.56,209.38 444.34,208.02 445.12,205.71 445.90,204.52 446.67,202.37 447.45,199.80 448.23,197.56 449.00,195.28 449.80,192.68 450.60,190.11 451.40,186.24 452.17,188.80 452.95,191.20 453.73,194.26 454.50,196.82 455.32,198.14 456.14,200.52 456.96,202.25 457.78,203.63 458.60,205.59 459.42,206.36 460.23,208.27 461.05,208.97 461.87,209.51 462.68,210.72 463.50,212.41 464.32,212.76 465.13,213.81 465.95,213.95 466.77,215.26 467.58,215.95 468.40,215.85 469.22,216.94 470.03,217.06 470.85,218.18 471.67,218.83 472.48,219.37 473.30,219.30 474.13,219.69 474.97,220.85 475.80,221.27 476.63,221.34 477.47,221.93 478.30,222.89 479.14,222.62 479.98,223.45 480.81,223.27 481.65,223.53 482.49,223.97 483.32,224.34 484.16,224.80 485.00,224.28 485.83,225.12 486.67,224.65 487.50,224.80 488.33,225.26 489.17,225.40 490.00,225.39 490.83,225.79 491.67,225.10 492.50,225.29 493.33,225.48 494.17,224.85 495.00,224.54 495.83,224.42 496.67,224.83 497.50,224.69 498.33,224.38 499.17,224.45 500.00,224.07 500.77,223.37 501.54,223.20 502.31,223.47 503.08,222.56 503.85,223.00 504.62,222.25 505.39,222.03 506.16,222.37 506.93,221.79 507.70,222.47 508.46,221.92 509.21,220.96 509.97,220.17 510.72,219.58 511.48,219.51 512.23,219.02 512.99,218.35 513.74,218.24 514.50,217.53" fill="none" stroke="#9a3ee2" stroke-width="1.6" stroke-linejoin="round" stroke-linecap="round" />
<text x="514.1" y="144.9" font-size="6.7" text-anchor="end" >60 K</text>
<text x="514.1" y="154.5" font-size="6.7" text-anchor="end" >50 K</text>
<text x="514.1" y="164.6" font-size="6.7" text-anchor="end" >40 K</text>
<text x="514.1" y="174.6" font-size="6.7" text-anchor="end" >35 K</text>
<text x="514.1" y="183.9" font-size="6.7" text-anchor="end" >30 K</text>
<text x="514.1" y="194.3" font-size="6.7" text-anchor="end" >25 K</text>
<text x="514.1" y="205.20000000000002" font-size="6.7" text-anchor="end" >20 K</text>
<text x="514.1" y="216.1" font-size="6.7" text-anchor="end" >15 K</text>
<text x="514.1" y="230.4" font-size="6.7" text-anchor="end" >10 K</text>
<defs><radialGradient id="cg" cx="0.5" cy="0.5" r="0.5">
<stop offset="0" stop-color="#4c5c92"/><stop offset="0.14" stop-color="#36467c"/><stop offset="0.32" stop-color="#6a7ab2"/><stop offset="0.6" stop-color="#7686be"/><stop offset="0.8" stop-color="#5666a0"/><stop offset="0.92" stop-color="#34406e"/><stop offset="1" stop-color="#222c55"/></radialGradient>
<filter id="cb" x="-0.2" y="-0.2" width="1.4" height="1.4"><feGaussianBlur stdDeviation="0.6"/></filter>
<clipPath id="cc"><circle cx="219.6" cy="69.3" r="17.7"/></clipPath></defs>
<circle cx="219.6" cy="69.3" r="17.7" fill="url(#cg)"/>
<g clip-path="url(#cc)" filter="url(#cb)">
<path d="M206,58 L214,62 L212,66 Z" fill="#8a9ad0" opacity="0.6"/>
<path d="M224,76 L232,80 L228,84 Z" fill="#8a9ad0" opacity="0.5"/>
<path d="M227,57 L233,61 L229,64 Z" fill="#8a9ad0" opacity="0.5"/>
<rect x="215.6" y="50.0" width="6.6" height="7.6" rx="1.2" fill="#eef2fa"/>
<rect x="201.0" y="66.6" width="7.4" height="5.6" rx="1.2" fill="#eef2fa"/>
<rect x="231.0" y="63.8" width="7.0" height="7.4" rx="1.2" fill="#c8dcf4"/>
<rect x="215.8" y="81.2" width="6.6" height="7.0" rx="1.2" fill="#eef2fa"/>
</g>
</svg></body></html>
